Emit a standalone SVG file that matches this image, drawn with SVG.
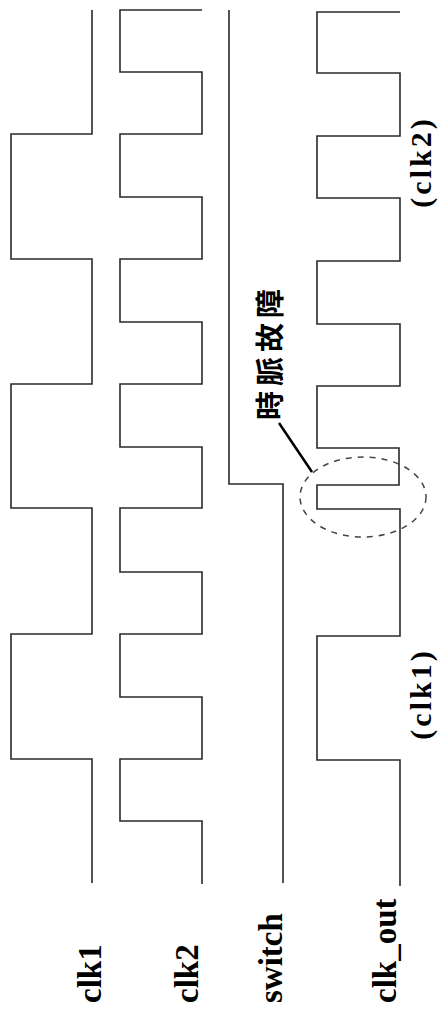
<svg xmlns="http://www.w3.org/2000/svg" width="446" height="1023" viewBox="0 0 446 1023">
<style>
.w{fill:none;stroke:#2a2a2a;stroke-width:1.6;stroke-linejoin:miter}
.lbl{font-family:"Liberation Serif","Times New Roman",serif;font-weight:bold;font-size:33px;fill:#000}
.par{font-family:"Liberation Serif","Times New Roman",serif;font-weight:bold;font-size:30px;fill:#000;letter-spacing:3px}
.cjk{font-family:"Noto Sans CJK TC","Noto Sans CJK SC",sans-serif;font-weight:bold;font-size:29px;fill:#000;letter-spacing:5px}
</style>
<rect width="446" height="1023" fill="#fff"/>
<g id="clk1">
<polyline class="w" points="92,10 92,134 11,134 11,259 92,259 92,384 11,384 11,508 92,508 92,634 11,634 11,759 92,759 92,883"/>
<text class="lbl" transform="translate(101,1003) rotate(-90)">clk1</text>
</g>
<g id="clk2">
<polyline class="w" points="202,10 120,10 120,72 202,72 202,134 120,134 120,197 202,197 202,259 120,259 120,322 202,322 202,384 120,384 120,447 202,447 202,508 120,508 120,572 202,572 202,634 120,634 120,697 202,697 202,759 120,759 120,821 202,821 202,884"/>
<text class="lbl" transform="translate(198,1003) rotate(-90)">clk2</text>
</g>
<g id="switch">
<polyline class="w" points="229,10 229,484 283,484 283,883"/>
<text class="lbl" transform="translate(282,1003) rotate(-90)">switch</text>
</g>
<g id="clk_out">
<polyline class="w" points="400,12 317,12 317,73 400,73 400,136 317,136 317,198 400,198 400,261 317,261 317,324 400,324 400,386 317,386 317,448 399,448 399,485 317,485 317,509 400,509 400,636 317,636 317,760 400,760 400,886"/>
<text class="lbl" transform="translate(396,1003) rotate(-90)">clk_out</text>
<text class="par" text-anchor="middle" transform="translate(431,162) rotate(-90)">(clk2)</text>
<text class="par" text-anchor="middle" transform="translate(431,694) rotate(-90)">(clk1)</text>
</g>
<g id="glitch">
<ellipse cx="363" cy="497" rx="63" ry="40" fill="none" stroke="#444" stroke-width="1.5" stroke-dasharray="6,6"/>
<text class="cjk" text-anchor="middle" dominant-baseline="central" transform="translate(268,352) rotate(-90)">時脈故障</text>
</g>
<g id="connectors">
<line x1="279" y1="423" x2="312" y2="472" stroke="#000" stroke-width="2.5"/>
</g>
</svg>
